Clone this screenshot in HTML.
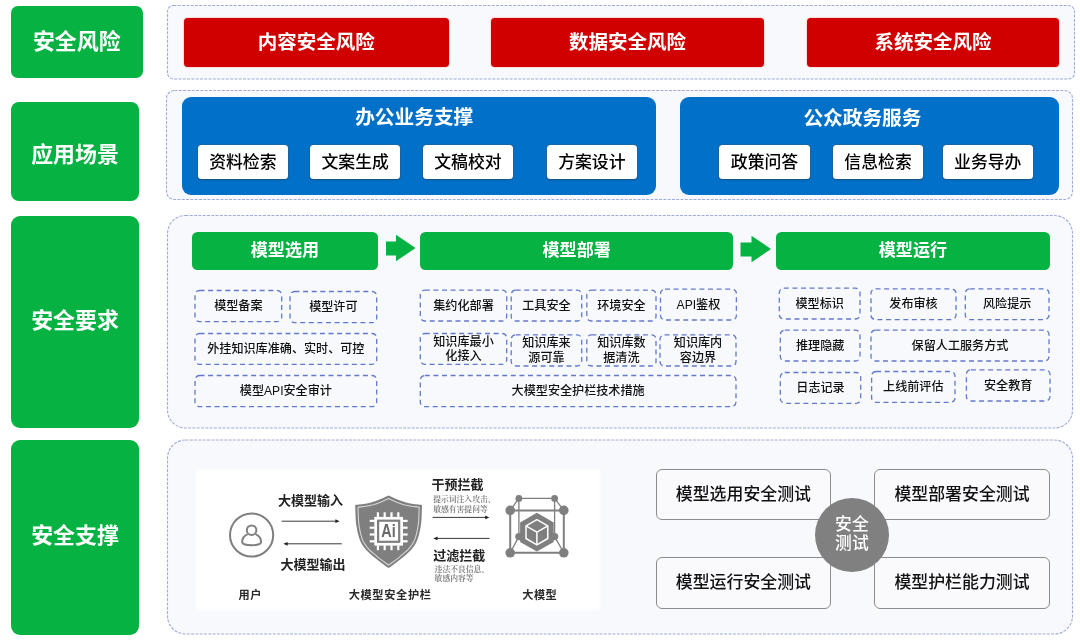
<!DOCTYPE html>
<html lang="zh-CN"><head><meta charset="utf-8"><title>大模型安全框架</title>
<style>
*{box-sizing:border-box;margin:0;padding:0}
html,body{width:1080px;height:641px;overflow:hidden;background:#fff}
body{position:relative;font-family:"Liberation Sans","Noto Sans CJK SC",sans-serif;color:#000}
#bg,#fg{position:absolute;left:0;top:0;width:1080px;height:641px}
div{position:absolute;white-space:nowrap}
#wrap{left:0;top:0;width:1080px;height:641px;background:#fff;filter:blur(0.45px)}
.lab{background:#05b242;border-radius:7.5px;color:#fff;font-weight:700;font-size:21.9px}
.lab span{position:absolute;left:0;right:0;text-align:center;line-height:30px;margin-top:-15px}
.red{background:#d00000;border-radius:4px;color:#fff;font-weight:700;font-size:19.5px;display:flex;align-items:center;justify-content:center;padding-bottom:4px;box-shadow:0 0 1.5px #ff6a6a}
.blue{background:#0070c8;border-radius:9px;color:#fff}
.bt{position:absolute;left:0;right:0;text-align:center;font-weight:700;font-size:19.7px;line-height:28px;margin-top:-14px}
.wh{background:#fff;border-radius:3.5px;font-weight:500;font-size:16.85px;padding-bottom:3.4px;display:flex;align-items:center;justify-content:center;box-shadow:0 0 0 0.6px rgba(90,90,90,.55),0 1px 1.5px rgba(0,0,0,.3)}
.gh{background:#05b242;border-radius:5.5px;color:#fff;font-weight:700;font-size:17.1px;padding-bottom:4.8px;display:flex;align-items:center;justify-content:center}
.it{font-size:12.1px;font-weight:500;padding-top:1px;display:flex;align-items:center;justify-content:center;text-align:center;line-height:14.5px;color:#111}
.img{background:#fff;box-shadow:0 0 4px 1px rgba(255,255,255,.9)}
.tb{background:#fafafc;border:1.5px solid #8c8c8c;border-radius:6px;font-weight:500;font-size:16.9px;padding-bottom:4.4px;display:flex;align-items:center;justify-content:center;color:#111}
.circ{background:#808080;border-radius:50%;color:#fff;font-weight:500;font-size:16.8px;line-height:19.8px;padding-bottom:0.8px;display:flex;align-items:center;justify-content:center;text-align:center}
</style></head>
<body>
<div id="wrap">
<svg id="bg" width="1080" height="641" viewBox="0 0 1080 641">
<rect x="167.5" y="5.5" width="907" height="73.5" rx="6" ry="6" fill="#f8f9fd" stroke="#a2acda" stroke-width="1.1" stroke-dasharray="3 1.3"/>
<rect x="166.5" y="90.5" width="906" height="109" rx="8" ry="8" fill="#f8f9fd" stroke="#a2acda" stroke-width="1.1" stroke-dasharray="3 1.3"/>
<rect x="167.5" y="215.5" width="905" height="212.5" rx="18" ry="18" fill="#f8f9fd" stroke="#a2acda" stroke-width="1.1" stroke-dasharray="3 1.3"/>
<rect x="167.5" y="440" width="905" height="194" rx="18" ry="18" fill="#f8f9fd" stroke="#a2acda" stroke-width="1.1" stroke-dasharray="3 1.3"/>
</svg>
<div class="lab" style="left:11px;top:6px;width:131.5px;height:72px;border-radius:7px;"><span style="top:36px">安全风险</span></div>
<div class="lab" style="left:11px;top:101.7px;width:128px;height:99.3px;border-radius:8px;"><span style="top:53.5px">应用场景</span></div>
<div class="lab" style="left:11px;top:215.5px;width:128px;height:212px;border-radius:9px;"><span style="top:105.5px">安全要求</span></div>
<div class="lab" style="left:11px;top:440px;width:128px;height:194.5px;border-radius:9px;"><span style="top:96.3px">安全支撑</span></div>
<div class="red" style="left:183.8px;top:18.3px;width:264.8px;height:48.5px;">内容安全风险</div>
<div class="red" style="left:490.7px;top:18.3px;width:273.8px;height:48.5px;">数据安全风险</div>
<div class="red" style="left:807.3px;top:18.3px;width:251.4px;height:48.5px;">系统安全风险</div>
<div class="blue" style="left:182px;top:97px;width:474px;height:97.5px;"><span class="bt" style="top:19.5px;margin-left:-9.6px">办公业务支撑</span></div>
<div class="blue" style="left:679.8px;top:97px;width:378.9px;height:97.5px;"><span class="bt" style="top:21px;margin-left:-13.6px">公众政务服务</span></div>
<div class="wh" style="left:197.5px;top:144.9px;width:90.7px;height:34.4px;">资料检索</div>
<div class="wh" style="left:309.9px;top:144.9px;width:90.6px;height:34.4px;">文案生成</div>
<div class="wh" style="left:422.5px;top:144.9px;width:90.8px;height:34.4px;">文稿校对</div>
<div class="wh" style="left:546.5px;top:144.9px;width:90.7px;height:34.4px;">方案设计</div>
<div class="wh" style="left:719.2px;top:144.9px;width:90.6px;height:34.4px;">政策问答</div>
<div class="wh" style="left:832.8000000000001px;top:144.9px;width:90.5px;height:34.4px;">信息检索</div>
<div class="wh" style="left:942.6px;top:144.9px;width:90.3px;height:34.4px;">业务导办</div>
<div class="gh" style="left:192px;top:232px;width:185.8px;height:38px;">模型选用</div>
<div class="gh" style="left:420.3px;top:232px;width:312.7px;height:38px;">模型部署</div>
<div class="gh" style="left:776px;top:232px;width:273.8px;height:38px;">模型运行</div>
<div class="it" style="left:195px;top:290.5px;width:86.7px;height:31.1px;"><span>模型备案</span></div>
<div class="it" style="left:290px;top:291.5px;width:86.7px;height:31.1px;"><span>模型许可</span></div>
<div class="it" style="left:195px;top:333.5px;width:181.7px;height:30.8px;"><span>外挂知识库准确、实时、可控</span></div>
<div class="it" style="left:195px;top:375.5px;width:181.7px;height:31.1px;"><span>模型API安全审计</span></div>
<div class="it" style="left:420.3px;top:290.1px;width:86.4px;height:30.9px;"><span>集约化部署</span></div>
<div class="it" style="left:511.2px;top:290.1px;width:70.5px;height:30.9px;"><span>工具安全</span></div>
<div class="it" style="left:586.8px;top:290.1px;width:69.2px;height:30.9px;"><span>环境安全</span></div>
<div class="it" style="left:660.5px;top:289.1px;width:75.9px;height:30.9px;"><span>API鉴权</span></div>
<div class="it it2" style="left:420.3px;top:333.5px;width:86.4px;height:30.8px;"><span>知识库最小<br>化接入</span></div>
<div class="it it2" style="left:511.2px;top:334.8px;width:70.5px;height:31.2px;"><span>知识库来<br>源可靠</span></div>
<div class="it it2" style="left:586.8px;top:334.8px;width:69.2px;height:31.2px;"><span>知识库数<br>据清洗</span></div>
<div class="it it2" style="left:660px;top:334.8px;width:76px;height:31.2px;"><span>知识库内<br>容边界</span></div>
<div class="it" style="left:420.3px;top:375.5px;width:315.7px;height:31.1px;"><span>大模型安全护栏技术措施</span></div>
<div class="it" style="left:779.3px;top:288.1px;width:80.7px;height:30.9px;"><span>模型标识</span></div>
<div class="it" style="left:871px;top:288.8px;width:85px;height:30.8px;"><span>发布审核</span></div>
<div class="it" style="left:965.3px;top:288.8px;width:83.7px;height:30.8px;"><span>风险提示</span></div>
<div class="it" style="left:780.3px;top:330.1px;width:79.7px;height:30.9px;"><span>推理隐藏</span></div>
<div class="it" style="left:871px;top:330.1px;width:178px;height:30.9px;"><span>保留人工服务方式</span></div>
<div class="it" style="left:780.3px;top:372.5px;width:80.4px;height:30.8px;"><span>日志记录</span></div>
<div class="it" style="left:871.6px;top:371.5px;width:83.4px;height:30.8px;"><span>上线前评估</span></div>
<div class="it" style="left:966.4px;top:369.8px;width:83.6px;height:31.2px;"><span>安全教育</span></div>
<div class="img" style="left:197.3px;top:469.5px;width:402px;height:139px;"></div>
<div class="tb" style="left:655.5px;top:468.7px;width:175.8px;height:51.8px;">模型选用安全测试</div>
<div class="tb" style="left:874px;top:468.7px;width:176px;height:51.8px;">模型部署安全测试</div>
<div class="tb" style="left:655.5px;top:556.5px;width:175.8px;height:52.0px;">模型运行安全测试</div>
<div class="tb" style="left:874px;top:556.5px;width:176px;height:52.0px;">模型护栏能力测试</div>
<div class="circ" style="left:814.7px;top:497.6px;width:74.4px;height:74.4px;">安全<br>测试</div>
<svg id="fg" width="1080" height="641" viewBox="0 0 1080 641">
<path d="M386 241.5H396V234.7L415.5 248L396 261.3V255.5H386Z" fill="#05b242"/>
<path d="M740.5 242.5H751.5V235.7L771 249L751.5 262.3V256.5H740.5Z" fill="#05b242"/>
<rect x="195" y="290.5" width="86.7" height="31.1" rx="4.5" ry="4.5" fill="none" stroke="#627acb" stroke-width="1.3" stroke-dasharray="5 3.6"/>
<rect x="290" y="291.5" width="86.7" height="31.1" rx="4.5" ry="4.5" fill="none" stroke="#627acb" stroke-width="1.3" stroke-dasharray="5 3.6"/>
<rect x="195" y="333.5" width="181.7" height="30.8" rx="4.5" ry="4.5" fill="none" stroke="#627acb" stroke-width="1.3" stroke-dasharray="5 3.6"/>
<rect x="195" y="375.5" width="181.7" height="31.1" rx="4.5" ry="4.5" fill="none" stroke="#627acb" stroke-width="1.3" stroke-dasharray="5 3.6"/>
<rect x="420.3" y="290.1" width="86.4" height="30.9" rx="4.5" ry="4.5" fill="none" stroke="#627acb" stroke-width="1.3" stroke-dasharray="5 3.6"/>
<rect x="511.2" y="290.1" width="70.5" height="30.9" rx="4.5" ry="4.5" fill="none" stroke="#627acb" stroke-width="1.3" stroke-dasharray="5 3.6"/>
<rect x="586.8" y="290.1" width="69.2" height="30.9" rx="4.5" ry="4.5" fill="none" stroke="#627acb" stroke-width="1.3" stroke-dasharray="5 3.6"/>
<rect x="660.5" y="289.1" width="75.9" height="30.9" rx="4.5" ry="4.5" fill="none" stroke="#627acb" stroke-width="1.3" stroke-dasharray="5 3.6"/>
<rect x="420.3" y="333.5" width="86.4" height="30.8" rx="4.5" ry="4.5" fill="none" stroke="#627acb" stroke-width="1.3" stroke-dasharray="5 3.6"/>
<rect x="511.2" y="334.8" width="70.5" height="31.2" rx="4.5" ry="4.5" fill="none" stroke="#627acb" stroke-width="1.3" stroke-dasharray="5 3.6"/>
<rect x="586.8" y="334.8" width="69.2" height="31.2" rx="4.5" ry="4.5" fill="none" stroke="#627acb" stroke-width="1.3" stroke-dasharray="5 3.6"/>
<rect x="660" y="334.8" width="76" height="31.2" rx="4.5" ry="4.5" fill="none" stroke="#627acb" stroke-width="1.3" stroke-dasharray="5 3.6"/>
<rect x="420.3" y="375.5" width="315.7" height="31.1" rx="4.5" ry="4.5" fill="none" stroke="#627acb" stroke-width="1.3" stroke-dasharray="5 3.6"/>
<rect x="779.3" y="288.1" width="80.7" height="30.9" rx="4.5" ry="4.5" fill="none" stroke="#627acb" stroke-width="1.3" stroke-dasharray="5 3.6"/>
<rect x="871" y="288.8" width="85" height="30.8" rx="4.5" ry="4.5" fill="none" stroke="#627acb" stroke-width="1.3" stroke-dasharray="5 3.6"/>
<rect x="965.3" y="288.8" width="83.7" height="30.8" rx="4.5" ry="4.5" fill="none" stroke="#627acb" stroke-width="1.3" stroke-dasharray="5 3.6"/>
<rect x="780.3" y="330.1" width="79.7" height="30.9" rx="4.5" ry="4.5" fill="none" stroke="#627acb" stroke-width="1.3" stroke-dasharray="5 3.6"/>
<rect x="871" y="330.1" width="178" height="30.9" rx="4.5" ry="4.5" fill="none" stroke="#627acb" stroke-width="1.3" stroke-dasharray="5 3.6"/>
<rect x="780.3" y="372.5" width="80.4" height="30.8" rx="4.5" ry="4.5" fill="none" stroke="#627acb" stroke-width="1.3" stroke-dasharray="5 3.6"/>
<rect x="871.6" y="371.5" width="83.4" height="30.8" rx="4.5" ry="4.5" fill="none" stroke="#627acb" stroke-width="1.3" stroke-dasharray="5 3.6"/>
<rect x="966.4" y="369.8" width="83.6" height="31.2" rx="4.5" ry="4.5" fill="none" stroke="#627acb" stroke-width="1.3" stroke-dasharray="5 3.6"/>
<g fill="none" stroke="#7f7f7f" stroke-width="2"><circle cx="251.6" cy="535" r="21.6"/><circle cx="251.6" cy="530.2" r="4.8"/><path d="M247.6 534.2C244 536 242 539 242.2 542.2C242.4 544.4 246 545.2 251.6 545.2C257.2 545.2 260.8 544.4 261 542.2C261.2 539 259.2 536 255.6 534.2"/></g>
<path d="M281.7 521.2H336.6" stroke="#222" stroke-width="0.9" fill="none"/><path d="M339.6 521.2L335.40000000000003 519.3000000000001V523.1Z" fill="#222"/>
<path d="M286.4 543.8H341.8" stroke="#222" stroke-width="0.9" fill="none"/><path d="M283.4 543.8L287.59999999999997 541.9V545.6999999999999Z" fill="#222"/>
<path d="M432.6 517.4H486.4" stroke="#222" stroke-width="0.9" fill="none"/><path d="M489.4 517.4L485.2 515.5V519.3Z" fill="#222"/>
<path d="M436.3 538.4H489.6" stroke="#222" stroke-width="0.9" fill="none"/><path d="M433.3 538.4L437.5 536.5V540.3Z" fill="#222"/>
<path d="M388.6 495.6C390.1 496.3 394.7 498.5 397.5 499.6C400.3 500.7 402.7 501.6 405.3 502.3C407.9 503.0 410.3 503.5 413.1 503.9C415.9 504.3 420.5 504.7 422.0 504.9C421.9 507.2 421.7 515.4 421.5 519.0C421.3 522.6 421.0 524.2 420.6 526.8C420.2 529.4 419.7 532.0 419.0 534.6C418.3 537.2 417.6 539.8 416.2 542.4C414.8 545.0 413.3 547.5 410.8 550.2C408.3 552.9 404.3 556.2 401.4 558.6C398.5 561.0 395.7 563.0 393.6 564.6C391.5 566.2 389.4 567.5 388.6 568.1C387.8 567.5 385.7 566.2 383.6 564.6C381.5 563.0 378.7 561.0 375.8 558.6C372.9 556.2 368.9 552.9 366.4 550.2C363.9 547.5 362.4 545.0 361.0 542.4C359.6 539.8 358.9 537.2 358.2 534.6C357.5 532.0 357.0 529.4 356.6 526.8C356.2 524.2 355.9 522.6 355.7 519.0C355.5 515.4 355.3 507.2 355.2 504.9C356.7 504.7 361.3 504.3 364.1 503.9C366.9 503.5 369.3 503.0 371.9 502.3C374.5 501.6 376.9 500.7 379.7 499.6C382.5 498.5 387.1 496.3 388.6 495.6Z" fill="#7f7f7f"/>
<path d="M388.6 498.6C390.0 499.3 394.2 501.3 396.7 502.3C399.3 503.3 401.5 504.1 403.9 504.8C406.3 505.4 408.5 505.8 411.0 506.2C413.6 506.6 417.8 507.0 419.2 507.2C419.1 509.3 418.9 516.7 418.7 520.1C418.5 523.4 418.3 524.8 417.9 527.2C417.5 529.6 417.1 531.9 416.4 534.3C415.7 536.7 415.1 539.1 413.9 541.5C412.6 543.8 411.2 546.1 408.9 548.6C406.7 551.1 402.9 554.1 400.3 556.3C397.7 558.5 395.1 560.3 393.2 561.8C391.2 563.2 389.4 564.4 388.6 565.0C387.8 564.4 386.0 563.2 384.0 561.8C382.1 560.3 379.5 558.5 376.9 556.3C374.3 554.1 370.5 551.1 368.3 548.6C366.0 546.1 364.6 543.8 363.3 541.5C362.1 539.1 361.5 536.7 360.8 534.3C360.1 531.9 359.7 529.6 359.3 527.2C358.9 524.8 358.7 523.4 358.5 520.1C358.3 516.7 358.1 509.3 358.0 507.2C359.4 507.0 363.6 506.6 366.2 506.2C368.7 505.8 370.9 505.4 373.3 504.8C375.7 504.1 377.9 503.3 380.5 502.3C383.0 501.3 387.2 499.3 388.6 498.6Z" fill="none" stroke="#d6d6d6" stroke-width="1.1"/>
<g fill="#fff">
<rect x="374.3" y="516.9" width="28.7" height="28.7"/>
<rect x="376.8" y="512.3" width="2.2" height="5"/>
<rect x="376.8" y="545.2" width="2.2" height="5"/>
<rect x="383.6" y="512.3" width="2.2" height="5"/>
<rect x="383.6" y="545.2" width="2.2" height="5"/>
<rect x="390.4" y="512.3" width="2.2" height="5"/>
<rect x="390.4" y="545.2" width="2.2" height="5"/>
<rect x="397.2" y="512.3" width="2.2" height="5"/>
<rect x="397.2" y="545.2" width="2.2" height="5"/>
<rect x="369.7" y="519.8" width="5" height="2.2"/>
<rect x="402.6" y="519.8" width="5" height="2.2"/>
<rect x="369.7" y="526.6" width="5" height="2.2"/>
<rect x="402.6" y="526.6" width="5" height="2.2"/>
<rect x="369.7" y="533.4" width="5" height="2.2"/>
<rect x="402.6" y="533.4" width="5" height="2.2"/>
<rect x="369.7" y="540.2" width="5" height="2.2"/>
<rect x="402.6" y="540.2" width="5" height="2.2"/>
</g>
<rect x="378.1" y="520.7" width="21.1" height="21.1" fill="none" stroke="#7f7f7f" stroke-width="2.2"/>
<text x="388.5" y="537.1" text-anchor="middle" font-family="'Liberation Sans',sans-serif" font-weight="700" font-size="17.5" fill="#6a6a6a" textLength="14.4" lengthAdjust="spacingAndGlyphs">Ai</text>
<g fill="none" stroke="#7f7f7f">
<path d="M518.9 498.4H554.6V536.6H518.9Z" stroke-width="1.3"/>
<path d="M510.2 510.4L518.9 498.4M563.8 510.4L554.6 498.4M510.2 552.8L518.9 536.6M563.8 552.8L554.6 536.6" stroke-width="1.3"/>
<path d="M510.2 510.4H563.8V552.8H510.2Z" stroke-width="2"/>
</g>
<g fill="#7f7f7f">
<circle cx="510.2" cy="510.4" r="4.8"/>
<circle cx="563.8" cy="510.4" r="4.8"/>
<circle cx="510.2" cy="552.8" r="4.8"/>
<circle cx="563.8" cy="552.8" r="4.8"/>
<circle cx="518.9" cy="498.4" r="3.4"/>
<circle cx="554.6" cy="498.4" r="3.4"/>
<circle cx="518.9" cy="536.6" r="3.7"/>
<circle cx="554.6" cy="536.6" r="3.7"/>
<polygon points="536.9,512.8 553.7,522.5 553.7,541.9 536.9,551.6 520.1,541.9 520.1,522.5"/>
</g>
<g fill="none" stroke="#fff" stroke-width="1.5" stroke-linejoin="round">
<polygon points="536.9,519.6 547.8,525.9 547.8,538.5 536.9,544.8 526.0,538.5 526.0,525.9"/>
<path d="M536.9 532.2V544.8000000000001M536.9 532.2L547.8 525.9M536.9 532.2L526.0 525.9"/>
</g>
<text x="277.9" y="504.6" font-family="'Liberation Sans','Noto Sans CJK SC',sans-serif" font-size="13" font-weight="700" fill="#222" text-anchor="start">大模型输入</text>
<text x="280.4" y="569.4" font-family="'Liberation Sans','Noto Sans CJK SC',sans-serif" font-size="13" font-weight="700" fill="#222" text-anchor="start">大模型输出</text>
<text x="431.5" y="489.4" font-family="'Liberation Sans','Noto Sans CJK SC',sans-serif" font-size="13" font-weight="700" fill="#222" text-anchor="start">干预拦截</text>
<text x="433.2" y="559.8" font-family="'Liberation Sans','Noto Sans CJK SC',sans-serif" font-size="13" font-weight="700" fill="#222" text-anchor="start">过滤拦截</text>
<text x="433.2" y="502.3" font-family="'Liberation Serif','Noto Serif CJK SC',serif" font-size="7.8" font-weight="600" fill="#707070" text-anchor="start">提示词注入攻击、</text>
<text x="433.2" y="511.6" font-family="'Liberation Serif','Noto Serif CJK SC',serif" font-size="7.8" font-weight="600" fill="#707070" text-anchor="start">敏感有害提问等</text>
<text x="434.6" y="571.8" font-family="'Liberation Serif','Noto Serif CJK SC',serif" font-size="7.8" font-weight="600" fill="#707070" text-anchor="start">违法不良信息、</text>
<text x="434.6" y="580.6" font-family="'Liberation Serif','Noto Serif CJK SC',serif" font-size="7.8" font-weight="600" fill="#707070" text-anchor="start">敏感内容等</text>
<text x="238.6" y="598.6" font-family="'Liberation Sans','Noto Sans CJK SC',sans-serif" font-size="11.2" font-weight="700" fill="#2a2a2a" text-anchor="start" letter-spacing="0.4">用户</text>
<text x="348.7" y="598.8" font-family="'Liberation Sans','Noto Sans CJK SC',sans-serif" font-size="11.2" font-weight="700" fill="#2a2a2a" text-anchor="start" letter-spacing="0.65">大模型安全护栏</text>
<text x="522.2" y="599" font-family="'Liberation Sans','Noto Sans CJK SC',sans-serif" font-size="11.2" font-weight="700" fill="#2a2a2a" text-anchor="start" letter-spacing="0.5">大模型</text>
</svg>

</div>
</body></html>
